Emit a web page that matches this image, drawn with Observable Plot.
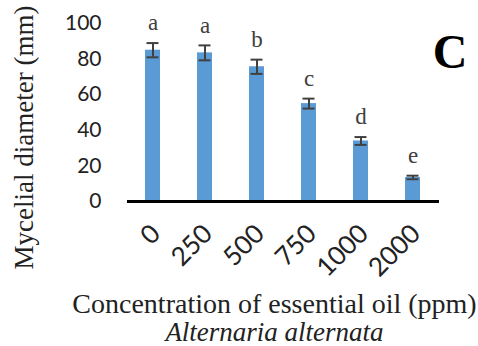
<!DOCTYPE html>
<html>
<head>
<meta charset="utf-8">
<script src="https://cdn.jsdelivr.net/npm/d3@7"></script>
<script src="https://cdn.jsdelivr.net/npm/@observablehq/plot@0.6"></script>
<style>
  html, body { margin: 0; padding: 0; background: #fff; }
  #chart { width: 478px; height: 346px; }
</style>
</head>
<body>
<div id="chart"></div>
<script>
const concentrations = ["0", "250", "500", "750", "1000", "2000"];
const diameters = [85, 83.5, 75.7, 55, 34, 13.5];
const errors = [4, 4.2, 4, 2.8, 2.2, 1];
const groups = ["a", "a", "b", "c", "d", "e"];
const yTicks = [0, 20, 40, 60, 80, 100];
const xTitle = "Concentration of essential oil (ppm)";
const yTitle = "Mycelial diameter (mm)";
const subtitle = "Alternaria alternata";
const panel = "C";

const data = concentrations.map((c, i) => ({
  c, v: diameters[i], lo: diameters[i] - errors[i], hi: diameters[i] + errors[i], g: groups[i]
}));

const W = 478, H = 346;
const mL = 127, mR = 39, mT = 23, mB = 145;

const chart = Plot.plot({
  width: W,
  height: H,
  marginLeft: mL,
  marginRight: mR,
  marginTop: mT,
  marginBottom: mB,
  style: { background: "#fff", overflow: "visible" },
  x: { domain: concentrations, paddingInner: 0.71, paddingOuter: 0.355, label: null },
  y: { domain: [0, 100], label: null },
  marks: [
    Plot.barY(data, { x: "c", y: "v", fill: "#5B9BD5" }),
    Plot.ruleX(data, { x: "c", y1: "lo", y2: "hi", stroke: "#404040", strokeWidth: 2 }),
    Plot.tickY(data, { x: "c", y: "lo", stroke: "#404040", strokeWidth: 2, insetLeft: 1.5, insetRight: 1.5 }),
    Plot.tickY(data, { x: "c", y: "hi", stroke: "#404040", strokeWidth: 2, insetLeft: 1.5, insetRight: 1.5 }),
    Plot.text(data, { x: "c", y: "hi", text: "g", dy: -20, fill: "#404040", fontSize: 23, fontFamily: "Liberation Serif" }),
    Plot.axisY({ ticks: yTicks, tickSize: 0, tickPadding: 26, fontSize: 21, fontFamily: "Lato", fill: "#222", label: null }),
    Plot.axisX({ tickSize: 0, tickRotate: -45, tickPadding: 28, dx: 3, fontSize: 26, fontFamily: "Lato", fill: "#222", label: null }),
    Plot.ruleX([0], { y1: 0, y2: 100, x: () => null, frameAnchor: "left", stroke: "#000", strokeWidth: 3 }),
    Plot.ruleY([0], { stroke: "#000", strokeWidth: 3 }),
    Plot.text([panel], { frameAnchor: "top-right", dx: 28, dy: 10, text: d => d, fontSize: 48, fontWeight: "bold", fontFamily: "Liberation Serif", fill: "#000", textAnchor: "end" }),
    Plot.text([xTitle], { frameAnchor: "bottom", dy: 111, dx: -9, lineAnchor: "bottom", text: d => d, fontSize: 28, fontFamily: "Liberation Serif", fill: "#222" }),
    Plot.text([subtitle], { frameAnchor: "bottom", dy: 139, dx: -9, lineAnchor: "bottom", text: d => d, fontSize: 27, fontStyle: "italic", fontFamily: "Liberation Serif", fill: "#222" }),
    Plot.text([yTitle], { frameAnchor: "left", dx: -103, dy: 25, rotate: -90, textAnchor: "middle", lineAnchor: "middle", text: d => d, fontSize: 27, fontFamily: "Liberation Serif", fill: "#222" })
  ]
});
document.getElementById("chart").appendChild(chart);
</script>
</body>
</html>
